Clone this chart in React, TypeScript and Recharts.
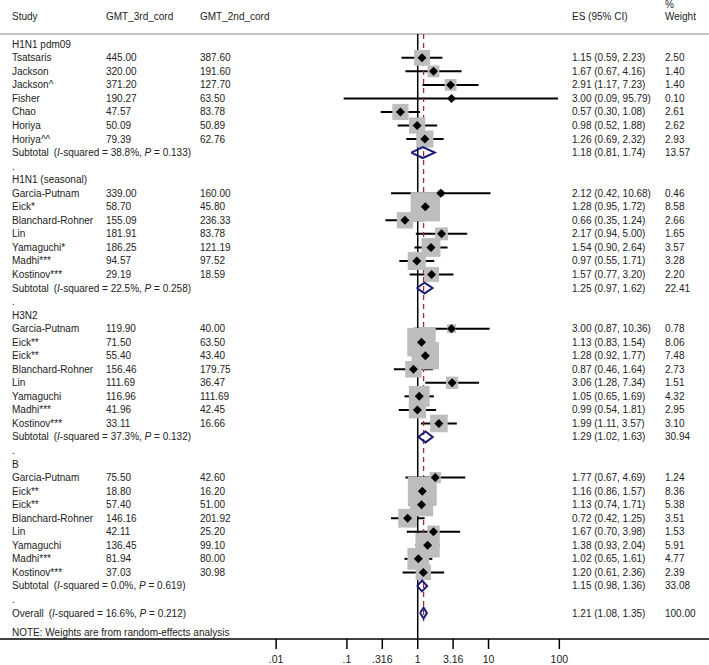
import React from 'react';
import { ScatterChart, Scatter, XAxis, YAxis, ErrorBar, ReferenceLine } from 'recharts';

// subgroup names
const GROUPS = ['H1N1 pdm09', 'H1N1 (seasonal)', 'H3N2', 'B'];

// per-group study rows
const STUDY = [
  ['Tsatsaris', 'Jackson', 'Jackson^', 'Fisher', 'Chao', 'Horiya', 'Horiya^^'],
  ['Garcia-Putnam', 'Eick*', 'Blanchard-Rohner', 'Lin', 'Yamaguchi*', 'Madhi***', 'Kostinov***'],
  ['Garcia-Putnam', 'Eick**', 'Eick**', 'Blanchard-Rohner', 'Lin', 'Yamaguchi', 'Madhi***', 'Kostinov***'],
  ['Garcia-Putnam', 'Eick**', 'Eick**', 'Blanchard-Rohner', 'Lin', 'Yamaguchi', 'Madhi***', 'Kostinov***'],
];
const GMT3 = [
  [445.0, 320.0, 371.2, 190.27, 47.57, 50.09, 79.39],
  [339.0, 58.7, 155.09, 181.91, 186.25, 94.57, 29.19],
  [119.9, 71.5, 55.4, 156.46, 111.69, 116.96, 41.96, 33.11],
  [75.5, 18.8, 57.4, 146.16, 42.11, 136.45, 81.94, 37.03],
];
const GMT2 = [
  [387.6, 191.6, 127.7, 63.5, 83.78, 50.89, 62.76],
  [160.0, 45.8, 236.33, 83.78, 121.19, 97.52, 18.59],
  [40.0, 63.5, 43.4, 179.75, 36.47, 111.69, 42.45, 16.66],
  [42.6, 16.2, 51.0, 201.92, 25.2, 99.1, 80.0, 30.98],
];
const ES = [
  [1.15, 1.67, 2.91, 3.0, 0.57, 0.98, 1.26],
  [2.12, 1.28, 0.66, 2.17, 1.54, 0.97, 1.57],
  [3.0, 1.13, 1.28, 0.87, 3.06, 1.05, 0.99, 1.99],
  [1.77, 1.16, 1.13, 0.72, 1.67, 1.38, 1.02, 1.2],
];
const LO = [
  [0.59, 0.67, 1.17, 0.09, 0.3, 0.52, 0.69],
  [0.42, 0.95, 0.35, 0.94, 0.9, 0.55, 0.77],
  [0.87, 0.83, 0.92, 0.46, 1.28, 0.65, 0.54, 1.11],
  [0.67, 0.86, 0.74, 0.42, 0.7, 0.93, 0.65, 0.61],
];
const HI = [
  [2.23, 4.16, 7.23, 95.79, 1.08, 1.88, 2.32],
  [10.68, 1.72, 1.24, 5.0, 2.64, 1.71, 3.2],
  [10.36, 1.54, 1.77, 1.64, 7.34, 1.69, 1.81, 3.57],
  [4.69, 1.57, 1.71, 1.25, 3.98, 2.04, 1.61, 2.36],
];
const WEIGHT = [
  [2.5, 1.4, 1.4, 0.1, 2.61, 2.62, 2.93],
  [0.46, 8.58, 2.66, 1.65, 3.57, 3.28, 2.2],
  [0.78, 8.06, 7.48, 2.73, 1.51, 4.32, 2.95, 3.1],
  [1.24, 8.36, 5.38, 3.51, 1.53, 5.91, 4.77, 2.39],
];

// subtotals
const SUB_I2 = [38.8, 22.5, 37.3, 0.0];
const SUB_P = [0.133, 0.258, 0.132, 0.619];
const SUB_ES = [1.18, 1.25, 1.29, 1.15];
const SUB_LO = [0.81, 0.97, 1.02, 0.98];
const SUB_HI = [1.74, 1.62, 1.63, 1.36];
const SUB_W = [13.57, 22.41, 30.94, 33.08];

// overall
const ALL_I2 = 16.6;
const ALL_P = 0.212;
const ALL_ES = 1.21;
const ALL_LO = 1.08;
const ALL_HI = 1.35;
const ALL_W = 100.0;

const TICKS = [0.01, 0.1, 0.316, 1, 3.16, 10, 100];
const TICK_LABELS = ['.01', '.1', '.316', '1', '3.16', '10', '100'];

const HEADER_ROW = -2.02;
const RULE_ROW = -0.76;
const NOTE_ROW = 43.45;
const Y_DOMAIN = [-3.27, 43.92];
const X_DOMAIN = [Math.pow(10, -5.9), Math.pow(10, 4.114)];

const FONT = '"Liberation Sans", Arial, Helvetica, sans-serif';
const INK = '#222';
const NAVY = '#1c1c78';
const COL = { study: 12, gmt3: 106, gmt2: 200, es: 572, w: 665 };

type Row = {
  kind: 'header' | 'group' | 'study' | 'subtotal' | 'gap' | 'overall' | 'note';
  row: number;
  label?: string;
  gmt3?: number;
  gmt2?: number;
  es?: number;
  lo?: number;
  hi?: number;
  w?: number;
  i2?: number;
  p?: number;
};

const rows: Row[] = [];
let r = 0;
GROUPS.forEach((g, gi) => {
  rows.push({ kind: 'group', label: g, row: r++ });
  STUDY[gi].forEach((s, si) =>
    rows.push({
      kind: 'study', label: s, row: r++,
      gmt3: GMT3[gi][si], gmt2: GMT2[gi][si],
      es: ES[gi][si], lo: LO[gi][si], hi: HI[gi][si], w: WEIGHT[gi][si],
    })
  );
  rows.push({
    kind: 'subtotal', row: r++, i2: SUB_I2[gi], p: SUB_P[gi],
    es: SUB_ES[gi], lo: SUB_LO[gi], hi: SUB_HI[gi], w: SUB_W[gi],
  });
  rows.push({ kind: 'gap', row: r++ });
});
rows.push({ kind: 'overall', row: r++, i2: ALL_I2, p: ALL_P, es: ALL_ES, lo: ALL_LO, hi: ALL_HI, w: ALL_W });

const studies = rows.filter(d => d.kind === 'study').map(d => ({
  x: d.es, y: d.row, w: d.w, err: [d.es! - d.lo!, d.hi! - d.es!],
}));
const pooled = rows.filter(d => d.kind === 'subtotal' || d.kind === 'overall');
const diamond = (d: Row) => [
  { x: d.lo, y: d.row }, { x: d.es, y: d.row - 0.4 }, { x: d.hi, y: d.row },
  { x: d.es, y: d.row + 0.4 }, { x: d.lo, y: d.row },
];
// text rows are anchored on the y scale; x is only a placeholder
const textRows = [{ kind: 'header', row: HEADER_ROW } as Row, ...rows, { kind: 'note', row: NOTE_ROW } as Row]
  .map(d => ({ ...d, x: 1, y: d.row }));

const nullLine = [{ x: 1, y: RULE_ROW }, { x: 1, y: Y_DOMAIN[1] }];
const pooledLine = [{ x: ALL_ES, y: RULE_ROW }, { x: ALL_ES, y: 42.6 }];

const txt = { fontFamily: FONT, fontSize: 10, fill: INK };
const ci = (d: Row) => `${d.es!.toFixed(2)} (${d.lo!.toFixed(2)}, ${d.hi!.toFixed(2)})`;

const RowText = (props: any) => {
  const d: Row = props.payload;
  const t = { ...txt, y: props.cy, dy: '0.35em' };
  if (d.kind === 'header') {
    return (
      <g>
        <text {...t} x={COL.study}>Study</text>
        <text {...t} x={COL.gmt3}>GMT_3rd_cord</text>
        <text {...t} x={COL.gmt2}>GMT_2nd_cord</text>
        <text {...t} x={COL.es}>ES (95% CI)</text>
        <text {...t} x={COL.w} y={props.cy - 12}>%</text>
        <text {...t} x={COL.w}>Weight</text>
      </g>
    );
  }
  if (d.kind === 'note') return <text {...t} x={COL.study}>NOTE: Weights are from random-effects analysis</text>;
  if (d.kind === 'group') return <text {...t} x={COL.study}>{d.label}</text>;
  if (d.kind === 'gap') return <text {...t} x={COL.study}>.</text>;
  if (d.kind === 'study') {
    return (
      <g>
        <text {...t} x={COL.study}>{d.label}</text>
        <text {...t} x={COL.gmt3}>{d.gmt3!.toFixed(2)}</text>
        <text {...t} x={COL.gmt2}>{d.gmt2!.toFixed(2)}</text>
        <text {...t} x={COL.es}>{ci(d)}</text>
        <text {...t} x={COL.w}>{d.w!.toFixed(2)}</text>
      </g>
    );
  }
  return (
    <g>
      <text {...t} x={COL.study}>
        {d.kind === 'subtotal' ? 'Subtotal' : 'Overall'}
        <tspan dx={5}>(</tspan>
        <tspan fontStyle="italic">I</tspan>
        <tspan>{`-squared = ${d.i2!.toFixed(1)}%, `}</tspan>
        <tspan fontStyle="italic">P</tspan>
        <tspan>{` = ${d.p!.toFixed(3)})`}</tspan>
      </text>
      <text {...t} x={COL.es}>{ci(d)}</text>
      <text {...t} x={COL.w}>{d.w!.toFixed(2)}</text>
    </g>
  );
};

const Square = (p: any) => {
  const s = 10 * Math.sqrt(p.payload.w);
  return <rect x={p.cx - s / 2} y={p.cy - s / 2} width={s} height={s} fill="#bdbdbd" />;
};
const Dot = (p: any) => (
  <polygon
    points={`${p.cx - 4.5},${p.cy} ${p.cx},${p.cy - 4.5} ${p.cx + 4.5},${p.cy} ${p.cx},${p.cy + 4.5}`}
    fill="#000"
  />
);
const None = () => <g />;

export default function App() {
  return (
    <div style={{ position: 'absolute', left: 0, top: 0, width: 709, height: 665, background: '#fff' }}>
      <ScatterChart width={709} height={665} margin={{ top: 0, right: 0, bottom: 0, left: 0 }}>
        <XAxis
          type="number" dataKey="x" scale="log" domain={X_DOMAIN} allowDataOverflow
          ticks={TICKS} interval={0} height={26} tickSize={10} tickMargin={7}
          tickFormatter={(v: number) => TICK_LABELS[TICKS.indexOf(v)] ?? String(v)}
          tick={{ fontFamily: FONT, fontSize: 10.5, fill: INK }}
          axisLine={{ stroke: '#000', strokeWidth: 1.5 }}
          tickLine={{ stroke: '#000', strokeWidth: 1.5 }}
        />
        <YAxis type="number" dataKey="y" domain={Y_DOMAIN} reversed allowDataOverflow width={0} hide />
        <ReferenceLine y={RULE_ROW} stroke="#c4c4c4" strokeWidth={2} />
        <Scatter data={nullLine} shape={None} isAnimationActive={false}
          line={{ stroke: '#000', strokeWidth: 1.5 }} lineType="joint" />
        <Scatter data={pooledLine} shape={None} isAnimationActive={false}
          line={{ stroke: '#9b2d3a', strokeWidth: 1.3, strokeDasharray: '5 4' }} lineType="joint" />
        <Scatter data={studies} shape={Square} isAnimationActive={false} />
        <Scatter data={studies} shape={Dot} isAnimationActive={false}>
          <ErrorBar dataKey="err" direction="x" width={0} stroke="#000" strokeWidth={2} />
        </Scatter>
        {pooled.map(d => (
          <Scatter
            key={d.row} data={diamond(d)} shape={None} isAnimationActive={false}
            line={{ stroke: NAVY, strokeWidth: 2 }} lineType="joint"
          />
        ))}
        <Scatter data={textRows} shape={RowText} isAnimationActive={false} />
      </ScatterChart>
    </div>
  );
}
